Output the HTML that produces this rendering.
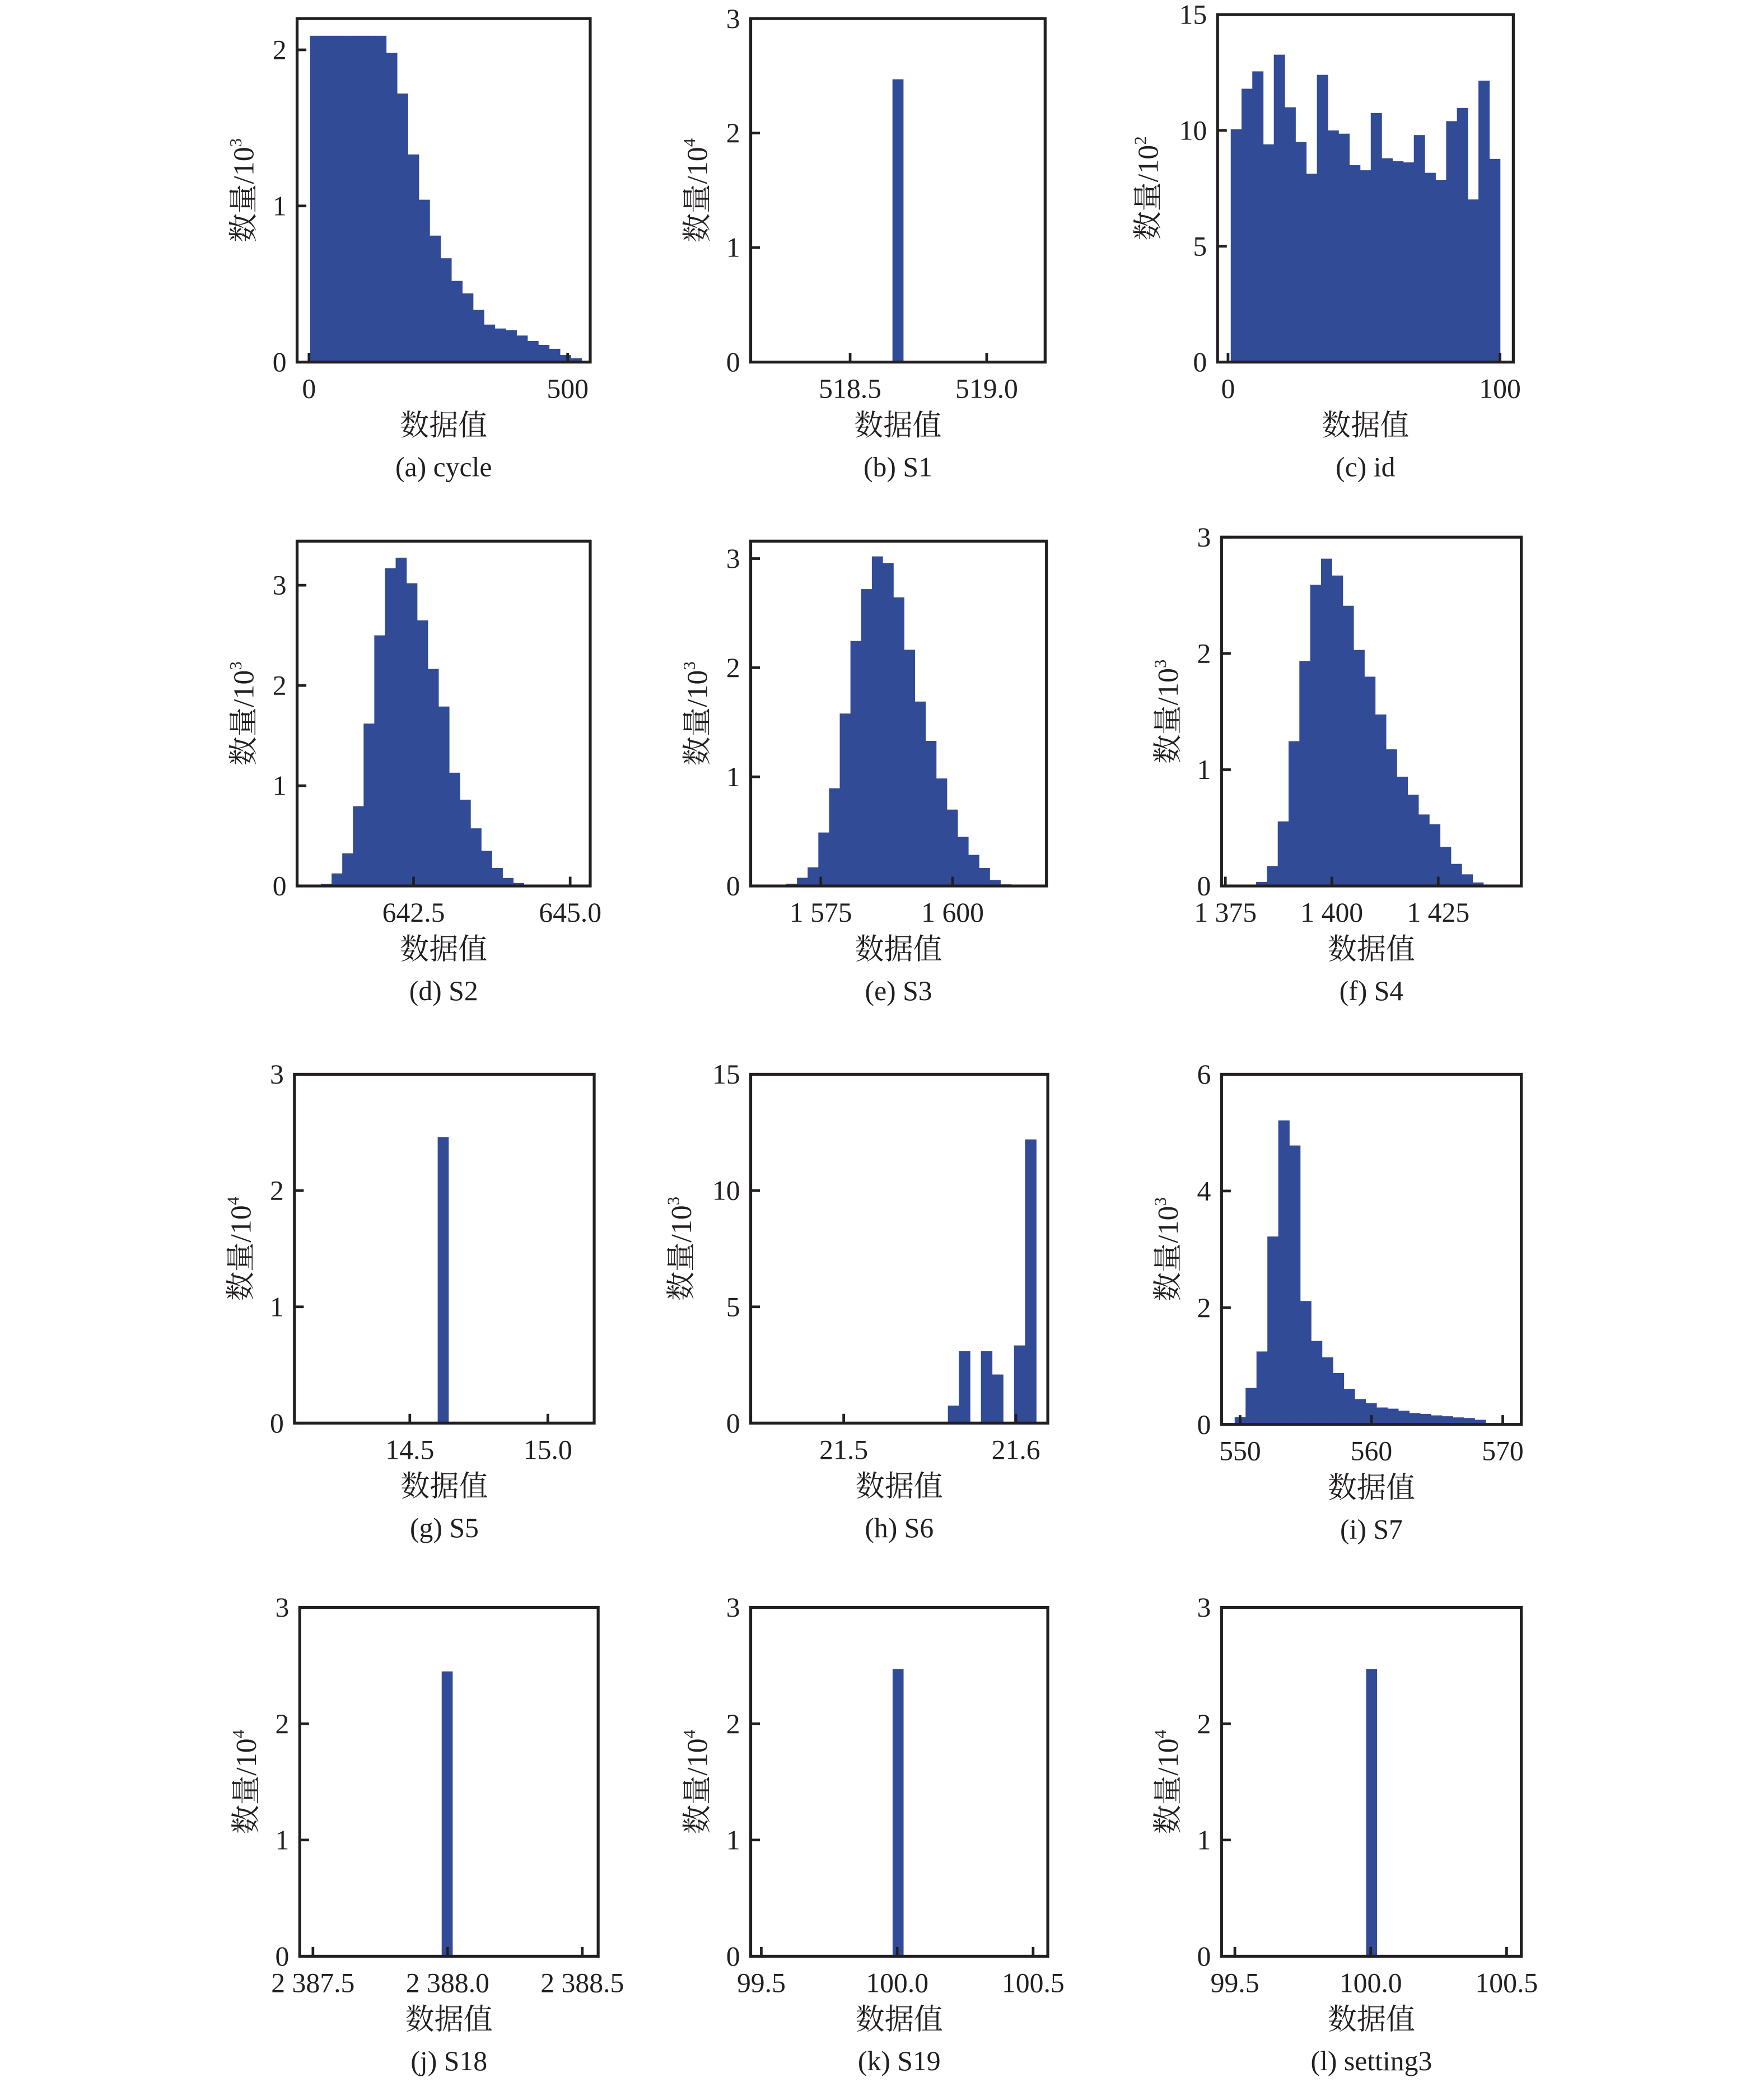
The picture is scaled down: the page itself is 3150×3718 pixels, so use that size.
<!DOCTYPE html>
<html><head><meta charset="utf-8"><style>
html,body{margin:0;padding:0;background:#fff;}
svg{display:block;}
text{font-family:"Liberation Serif","Noto Serif CJK SC","Noto Sans CJK SC",serif;fill:#231f20;}
</style></head><body>
<svg id="fig" xmlns="http://www.w3.org/2000/svg" width="3150" height="3718" viewBox="0 0 1330 1569.8"></svg>
<script>
// ---- data arrays (bin counts, in the unit shown on each y axis) ----
const captions = ["(a) cycle","(b) S1","(c) id","(d) S2","(e) S3","(f) S4","(g) S5","(h) S6","(i) S7","(j) S18","(k) S19","(l) setting3"];
const yExponents = ["3","4","2","3","3","3","4","3","3","4","4","4"];
const binStarts = [2, 518.655, 1, 641.02, 1568.44, 1382.22, 14.601, 21.5605, 549.59, 2387.978, 99.983, 99.983];
const binWidths = [21, 0.039, 3.96, 0.1705, 2.03, 2.54, 0.0385, 0.0064, 0.83, 0.0394, 0.039, 0.039];
const countsA = [2.09,2.09,2.09,2.09,2.09,2.09,2.09,1.98,1.72,1.33,1.04,0.81,0.665,0.52,0.44,0.335,0.24,0.215,0.205,0.17,0.135,0.11,0.085,0.045,0.025];
const countsB = [2.47];
const countsC = [10.05,11.8,12.55,9.4,13.27,11.0,9.5,8.13,12.4,10.0,9.86,8.5,8.28,10.75,8.8,8.67,8.62,9.8,8.17,7.87,10.4,10.97,7.02,12.15,8.77];
const countsD = [0.02,0.125,0.325,0.795,1.62,2.5,3.17,3.275,3.02,2.65,2.165,1.79,1.13,0.86,0.575,0.35,0.18,0.08,0.03];
const countsE = [0.02,0.075,0.17,0.49,0.895,1.58,2.245,2.72,3.02,2.96,2.645,2.165,1.69,1.33,0.985,0.70,0.45,0.285,0.165,0.055,0.015];
const countsF = [0.035,0.17,0.555,1.245,1.935,2.59,2.815,2.67,2.41,2.03,1.80,1.475,1.175,0.94,0.785,0.615,0.53,0.335,0.19,0.10,0.03];
const countsG = [2.46];
const countsH = [0.75,3.09,0,3.09,2.09,0,3.34,12.2];
const countsI = [0.125,0.625,1.25,3.22,5.21,4.78,2.115,1.43,1.15,0.88,0.61,0.435,0.365,0.29,0.27,0.235,0.195,0.18,0.155,0.14,0.12,0.11,0.08,0.01];
const countsJ = [2.45];
const countsK = [2.47];
const countsL = [2.47];
const allCounts = [countsA,countsB,countsC,countsD,countsE,countsF,countsG,countsH,countsI,countsJ,countsK,countsL];
const xTickValues = [[0,500],[518.5,519.0],[0,100],[642.5,645.0],[1575,1600],[1375,1400,1425],[14.5,15.0],[21.5,21.6],[550,560,570],[2387.5,2388.0,2388.5],[99.5,100.0,100.5],[99.5,100.0,100.5]];
const xTickLabels = [["0","500"],["518.5","519.0"],["0","100"],["642.5","645.0"],["1 575","1 600"],["1 375","1 400","1 425"],["14.5","15.0"],["21.5","21.6"],["550","560","570"],["2 387.5","2 388.0","2 388.5"],["99.5","100.0","100.5"],["99.5","100.0","100.5"]];
const yTickValues = [[0,1,2],[0,1,2,3],[0,5,10,15],[0,1,2,3],[0,1,2,3],[0,1,2,3],[0,1,2,3],[0,5,10,15],[0,2,4,6],[0,1,2,3],[0,1,2,3],[0,1,2,3]];
const xDomains = [[-23,543.6],[518.136,519.214],[-3.85,104.9],[640.64,645.32],[1561.7,1617.8],[1374.1,1444.5],[14.082,15.168],[21.446,21.6185],[548.59,571.41],[2387.451,2388.559],[99.461,100.554],[99.451,100.554]];
const yMaxes = [2.2,3,15,3.44,3.16,3.0,3,15,6,3,3,3];

// ---- layout (pixel frames, not data) ----
const frames = [[224,445,14,273],[566,788,14,273],[918,1141,11,273],
                [224,445,408,668],[566,789,408,668],[921,1147,405,668],
                [222,448,810,1073],[566,790,810,1073],[921,1147,810,1074],
                [226,451,1212,1475],[566,790,1212,1475],[921,1147,1212,1475]];
const BAR = "#314b97";
const NS = "http://www.w3.org/2000/svg";
const svg = document.getElementById("fig");
function mk(tag, attrs, parent){const e=document.createElementNS(NS,tag);for(const k in attrs)e.setAttribute(k,attrs[k]);(parent||svg).appendChild(e);return e;}

for (let p=0;p<12;p++){
  const [x0,x1,y0,y1]=frames[p];
  const [d0,d1]=xDomains[p];
  const xs=v=>x0+(v-d0)/(d1-d0)*(x1-x0);
  const ys=v=>y1-v/yMaxes[p]*(y1-y0);
  const g=mk("g",{});
  
  
  const counts=allCounts[p];
  for(let i=0;i<counts.length;i++){
    if(counts[i]<=0) continue;
    const a=xs(binStarts[p]+i*binWidths[p]), b=xs(binStarts[p]+(i+1)*binWidths[p]);
    const r=mk("rect",{x:a,y:ys(counts[i]),width:b-a+0.3,height:y1-ys(counts[i]),fill:BAR},g);
    
    
  }
  xTickValues[p].forEach((v,i)=>{
    const x=xs(v);
    const t=mk("line",{x1:x,x2:x,y1:y1,y2:y1-7,stroke:"#231f20","stroke-width":2},g);
    
    
    const l=mk("text",{x:x,y:y1+27,"font-size":21,"text-anchor":"middle"},g);
    l.textContent=xTickLabels[p][i];
    
    
  });
  let maxLen=1;
  yTickValues[p].forEach(v=>{
    const y=ys(v);
    const t=mk("line",{x1:x0,x2:x0+7,y1:y,y2:y,stroke:"#231f20","stroke-width":2},g);
    
    
    const l=mk("text",{x:x0-8,y:y+7,"font-size":21,"text-anchor":"end"},g);
    l.textContent=String(v);
    maxLen=Math.max(maxLen,String(v).length);
    
    
  });
  const fr=mk("rect",{x:x0,y:y0,width:x1-x0,height:y1-y0,fill:"none",stroke:"#231f20","stroke-width":2.2},g);
  
  
  const yl=mk("text",{x:0,y:0,"font-size":22,"text-anchor":"middle",transform:`translate(${x0-33-(maxLen-1)*12},${(y0+y1)/2}) rotate(-90)`},g);
  
  
  yl.appendChild(document.createTextNode("数量/10"));
  const sup=mk("tspan",{"font-size":13,dy:-9},yl);
  sup.textContent=yExponents[p];
  const cx=(x0+x1)/2;
  const xl=mk("text",{x:cx,y:y1+55,"font-size":22,"text-anchor":"middle"},g);
  xl.textContent="数据值";
  
  
  const cp=mk("text",{x:cx,y:y1+86,"font-size":21,"text-anchor":"middle"},g);
  cp.textContent=captions[p];
  
  
}
</script>
</body></html>
